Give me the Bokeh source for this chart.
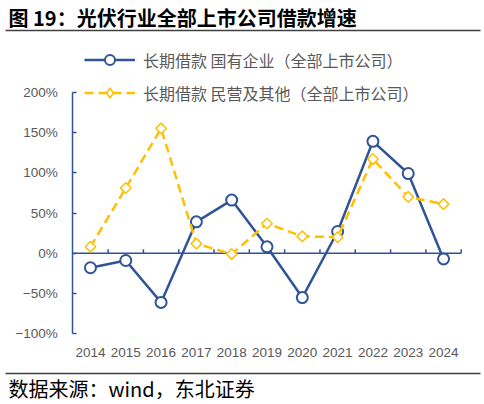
import math
from bokeh.plotting import figure
from bokeh.models import (Range1d, FixedTicker, LinearAxis, Legend, LegendItem, Label,
                          BoxAnnotation)
from bokeh.embed import file_html
from bokeh.resources import INLINE

# ---- data ----
years = ["2014", "2015", "2016", "2017", "2018", "2019", "2020", "2021", "2022", "2023", "2024"]
soe_growth = [-18, -9, -61, 39, 66, 8, -55, 27, 139, 99, -7]
private_growth = [8, 81, 155, 12, -1, 37, 21, 20, 117, 70, 61]
y_tick_values = [-100, -50, 0, 50, 100, 150, 200]
y_tick_labels = ["\u2212100%", "\u221250%", "0%", "50%", "100%", "150%", "200%"]
title_text = "图 19：光伏行业全部上市公司借款增速"
source_text = "数据来源：wind，东北证券"
soe_label = "长期借款 国有企业（全部上市公司）"
private_label = "长期借款 民营及其他（全部上市公司）"

NAVY = "#2F5597"
GOLD = "#FFC000"
GRAY = "#595959"
CJK = "Noto Sans CJK SC"

W, H = 484, 404
# plot area in pixels
PX_L, PX_R = 72.3, 460.7          # x of left / right category edge
PY_TOP, PY_BOT = 91.7, 333.3      # y of 200% / -100%

xs = list(range(len(years)))
x_lo, x_hi = -0.5, len(years) - 0.5
ppx = (PX_R - PX_L) / (x_hi - x_lo)
y_lo, y_hi = y_tick_values[0], y_tick_values[-1]
ppy = (PY_BOT - PY_TOP) / (y_hi - y_lo)

p = figure(width=W, height=H, output_backend="svg", toolbar_location=None,
           x_range=Range1d(x_lo - PX_L / ppx, x_hi + (W - PX_R) / ppx),
           y_range=Range1d(y_lo - (H - PY_BOT) / ppy, y_hi + PY_TOP / ppy),
           x_axis_type=None, y_axis_type=None,
           min_border=0, background_fill_color="white",
           border_fill_color="white", outline_line_color=None)
p.grid.visible = False

# y axis at the left category edge
yaxis = LinearAxis(fixed_location=x_lo, ticker=FixedTicker(ticks=y_tick_values),
                   major_label_overrides={v: s for v, s in zip(y_tick_values, y_tick_labels)},
                   bounds=(y_lo, y_hi), axis_line_color=NAVY, axis_line_width=1.5,
                   major_tick_line_color=NAVY, major_tick_line_width=1.5,
                   major_tick_in=4, major_tick_out=0, minor_tick_line_color=None,
                   major_label_text_font="Liberation Sans",
                   major_label_text_font_size="13.5px",
                   major_label_text_color=GRAY, major_label_standoff=15)
p.add_layout(yaxis, "left")

# category labels at the bottom
xaxis = LinearAxis(fixed_location=y_lo, ticker=FixedTicker(ticks=xs),
                   major_label_overrides={i: y for i, y in zip(xs, years)},
                   axis_line_color=None, major_tick_line_color=None,
                   minor_tick_line_color=None, major_label_text_font="Liberation Sans",
                   major_label_text_font_size="13.5px", major_label_text_color=GRAY,
                   major_label_standoff=8)
p.add_layout(xaxis, "below")

# zero line with small ticks at category boundaries
edges = [i + 0.5 for i in xs]
tick_h = 4 / ppy
p.segment(x0=[x_lo], y0=[0], x1=[x_hi], y1=[0], line_color=NAVY, line_width=1.5)
p.segment(x0=edges, y0=[0] * len(edges), x1=edges, y1=[tick_h] * len(edges),
          line_color=NAVY, line_width=1.5)

# series
l1 = p.line(xs, soe_growth, line_color=NAVY, line_width=2.5)
s1 = p.scatter(xs, soe_growth, marker="circle", size=11, fill_color="white",
               line_color=NAVY, line_width=2)
l2 = p.line(xs, private_growth, line_color=GOLD, line_width=2.5, line_dash="9 5")
s2_leg = p.scatter(xs, private_growth, marker="diamond", size=9, fill_color="white",
                   line_color=GOLD, line_width=1.5)
s2 = p.scatter(xs, private_growth, marker="square", size=7.5, angle=math.pi / 4,
               fill_color="white", line_color=GOLD, line_width=1.5)

legend = Legend(items=[LegendItem(label=soe_label, renderers=[l1, s1]),
                       LegendItem(label=private_label, renderers=[l2, s2_leg])],
                location=(84, H - 105), padding=0, spacing=8,
                glyph_height=25, glyph_width=51, label_standoff=8,
                label_height=25, border_line_color=None, background_fill_alpha=0,
                label_text_font=CJK, label_text_font_size="16px",
                label_text_color=GRAY)
p.add_layout(legend)

# title, source and separator lines (screen units: from left / from bottom)
p.add_layout(Label(x=8, y=H - 16.5, x_units="screen", y_units="screen",
                   text=title_text, text_font=CJK, text_font_style="bold",
                   text_font_size="20px", text_color="black", text_baseline="middle"))
p.add_layout(Label(x=8, y=H - 388, x_units="screen", y_units="screen",
                   text=source_text, text_font=CJK, text_font_size="20px",
                   text_color="black", text_baseline="middle"))
for yy in [H - 30, H - 373]:
    p.add_layout(BoxAnnotation(left=5, right=480, bottom=yy - 0.7, top=yy + 0.7,
                               left_units="screen", right_units="screen",
                               bottom_units="screen", top_units="screen",
                               fill_color="#404040", fill_alpha=1, line_color=None))

open("out.html", "w").write(file_html(p, INLINE))
